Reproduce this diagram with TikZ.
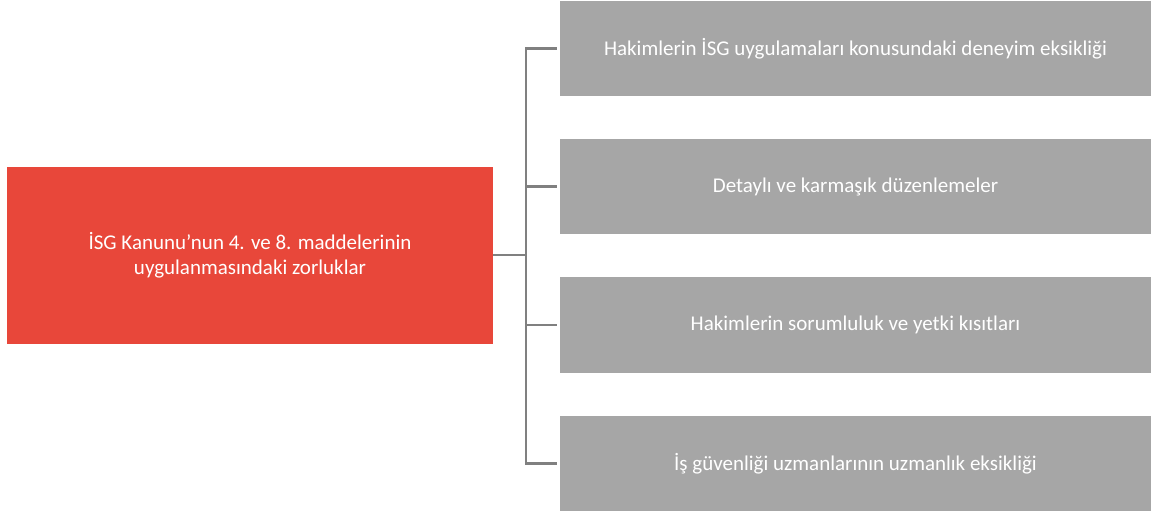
\documentclass[tikz,border=0pt]{standalone}
\usepackage{fontspec}
\setmainfont{Carlito}
\definecolor{redbox}{HTML}{E8473A}
\definecolor{graybox}{HTML}{A6A6A6}
\definecolor{linegray}{HTML}{808080}
\begin{document}
\begin{tikzpicture}[x=1pt,y=-1pt,
  box/.style={draw=none,inner sep=0pt,text=white,align=center,font=\fontsize{21}{25}\selectfont},
  conn/.style={draw=linegray,line width=2.2pt}]
\useasboundingbox (0,0) rectangle (1151,512);
\fill[white] (0,0) rectangle (1151,512);
\node[box,fill=redbox,minimum width=486pt,minimum height=177pt] (main) at (250,255.5) {İSG Kanunu’nun 4. ve 8. maddelerinin\\uygulanmasındaki zorluklar};
\node[box,fill=graybox,minimum width=591pt,minimum height=95pt] (b1) at (855.5,48.5) {Hakimlerin İSG uygulamaları konusundaki deneyim eksikliği};
\node[box,fill=graybox,minimum width=591pt,minimum height=95pt] (b2) at (855.5,186.5) {Detaylı ve karmaşık düzenlemeler};
\node[box,fill=graybox,minimum width=591pt,minimum height=96pt] (b3) at (855.5,325) {Hakimlerin sorumluluk ve yetki kısıtları};
\node[box,fill=graybox,minimum width=591pt,minimum height=95pt] (b4) at (855.5,463.5) {İş güvenliği uzmanlarının uzmanlık eksikliği};
\coordinate (j) at (526,255);
\draw[conn] (main.east |- j) -- (j);
\draw[conn] ([xshift=-3pt]b1.west) -| (j |- b1.west) -- (j |- b4.west) -- ([xshift=-3pt]b4.west);
\draw[conn] (j |- b2.west) -- ([xshift=-3pt]b2.west);
\draw[conn] (j |- b3.west) -- ([xshift=-3pt]b3.west);
\end{tikzpicture}
\end{document}
